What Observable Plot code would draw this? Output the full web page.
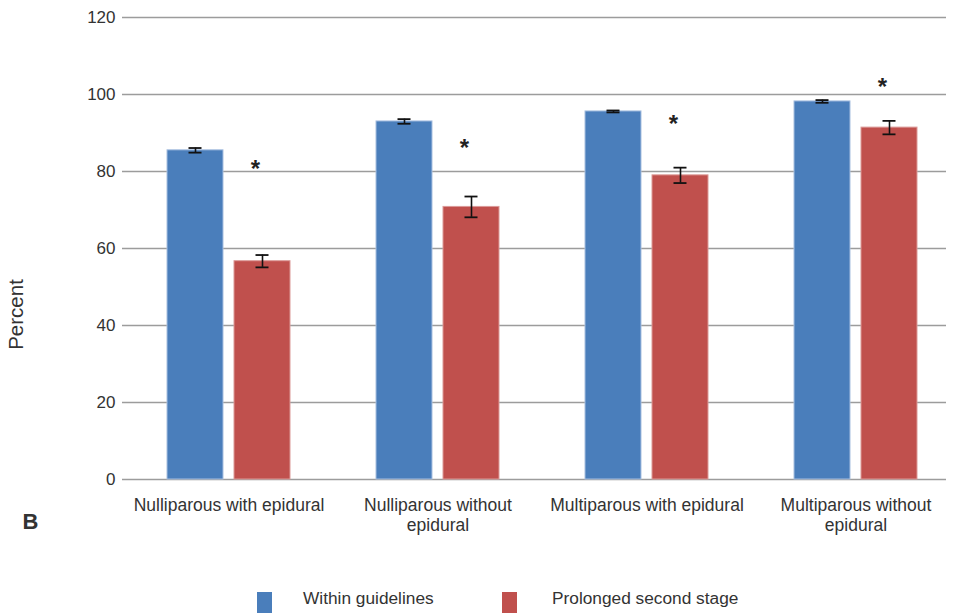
<!DOCTYPE html>
<html><head><meta charset="utf-8">
<script src="https://cdn.jsdelivr.net/npm/d3@7"></script>
<script src="https://cdn.jsdelivr.net/npm/@observablehq/plot@0.6"></script>
<style>
body{margin:0;background:#fff;font-family:"Liberation Sans",Arial,sans-serif;}
#wrap{width:960px;height:613px;position:relative;overflow:hidden;background:#fff}
#legend{position:relative;height:53px;color:#333;font-size:17.3px}
#legend .sw{position:absolute;top:32px;width:15px;height:22px}
#legend .lb{position:absolute;top:28px;line-height:20px;white-space:nowrap}
</style></head><body>
<div id="wrap"><div id="chart"></div><div id="legend"></div></div>
<script>
const groups = ["Nulliparous with epidural", "Nulliparous without\nepidural", "Multiparous with epidural", "Multiparous without\nepidural"];
const seriesNames = ["Within guidelines", "Prolonged second stage"];
const seriesColors = ["#4a7ebb", "#c0504d"];
const within = [85.5, 93.0, 95.6, 98.2];
const withinErr = [0.6, 0.6, 0.25, 0.35];
const prolonged = [56.7, 70.8, 79.0, 91.4];
const prolongedErr = [1.6, 2.7, 2.0, 1.75];
const starY = [82.1, 87.5, 93.8, 103.4];
const yTicks = [0, 20, 40, 60, 80, 100, 120];

const rowsW = groups.map((g, i) => ({group: g, value: within[i], lo: within[i] - withinErr[i], hi: within[i] + withinErr[i]}));
const rowsP = groups.map((g, i) => ({group: g, value: prolonged[i], lo: prolonged[i] - prolongedErr[i], hi: prolonged[i] + prolongedErr[i]}));
const stars = groups.map((g, i) => ({group: g, y: starY[i]}));

const errMarks = (rows, dx) => [
  Plot.ruleX(rows, {x: "group", y1: "lo", y2: "hi", dx, stroke: "#111", strokeWidth: 1.6}),
  Plot.tickY(rows, {x: "group", y: "lo", dx, insetLeft: 98, insetRight: 98, stroke: "#111", strokeWidth: 1.8}),
  Plot.tickY(rows, {x: "group", y: "hi", dx, insetLeft: 98, insetRight: 98, stroke: "#111", strokeWidth: 1.8})
];

const chart = Plot.plot({
  width: 960, height: 560,
  marginLeft: 122, marginRight: 14, marginTop: 17, marginBottom: 81,
  style: {fontFamily: "Liberation Sans, Arial, sans-serif", background: "white", color: "#333", overflow: "visible"},
  x: {type: "band", domain: groups, range: [123, 960], padding: 0, label: null},
  y: {domain: [0, 120], label: null},
  marks: [
    Plot.ruleY(yTicks, {stroke: "#9c9c9c", strokeWidth: 1.6}),
    Plot.barY(rowsW, {x: "group", y: "value", fill: seriesColors[0], stroke: "#a7bfe0", strokeWidth: 1, insetLeft: 43, insetRight: 110}),
    Plot.barY(rowsP, {x: "group", y: "value", fill: seriesColors[1], stroke: "#dc9a98", strokeWidth: 1, insetLeft: 110, insetRight: 43}),
    ...errMarks(rowsW, -33.5),
    ...errMarks(rowsP, 33.5),
    Plot.text(stars, {x: "group", y: "y", text: () => "*", dx: 26.5, dy: 6, fontSize: 24, fontWeight: "bold", fill: "#222"}),
    Plot.axisY(yTicks, {tickSize: 0, tickPadding: 7, fontSize: 17, label: null, fill: "#333"}),
    Plot.axisX({tickSize: 0, tickPadding: 17, fontSize: 17.5, lineHeight: 1.15, label: null, fill: "#333"}),
    Plot.text(["Percent"], {frameAnchor: "left", rotate: -90, dx: -106, dy: 66, fontSize: 20.5, textAnchor: "middle", lineAnchor: "middle", fill: "#333"}),
    Plot.text(["B"], {frameAnchor: "bottom-left", dx: -92, dy: 42, fontSize: 22, fontWeight: "bold", textAnchor: "middle", lineAnchor: "middle", fill: "#333"})
  ]
});
document.getElementById("chart").appendChild(chart);

const legend = document.getElementById("legend");
const swX = [257, 502], lbX = [303, 552];
seriesNames.forEach((name, i) => {
  const sw = document.createElement("div");
  sw.className = "sw"; sw.style.left = swX[i] + "px"; sw.style.background = seriesColors[i];
  const lb = document.createElement("div");
  lb.className = "lb"; lb.style.left = lbX[i] + "px"; lb.textContent = name;
  legend.appendChild(sw); legend.appendChild(lb);
});
</script>
</body></html>
